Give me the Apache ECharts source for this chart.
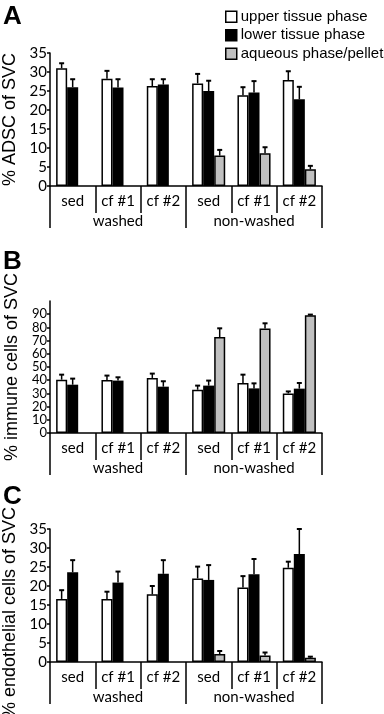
<!DOCTYPE html>
<html><head><meta charset="utf-8">
<script src="https://cdn.jsdelivr.net/npm/echarts@6/dist/echarts.min.js"></script>
<style>html,body{margin:0;padding:0;background:#fff}#c{width:384px;height:714px}</style>
</head><body><div id="c"></div>
<script>
const categories = ['sed', 'cf #1', 'cf #2', 'sed', 'cf #1', 'cf #2'];
const groups = ['washed', 'non-washed'];
const seriesNames = ['upper tissue phase', 'lower tissue phase', 'aqueous phase/pellet'];

const adscUpper = [31.0, 28.2, 26.3, 27.0, 23.9, 27.9];
const adscUpperErr = [1.3, 2.1, 1.8, 2.5, 2.1, 2.3];
const adscLower = [26.0, 25.9, 26.7, 25.0, 24.6, 22.8];
const adscLowerErr = [2.1, 2.2, 1.4, 2.7, 3.0, 3.3];
const adscAqueous = [null, null, null, 8.0, 8.6, 4.4];
const adscAqueousErr = [null, null, null, 1.5, 1.6, 0.9];

const immuneUpper = [40.4, 40.2, 41.7, 32.8, 37.9, 30.0];
const immuneUpperErr = [3.8, 3.3, 3.3, 3.1, 6.3, 1.5];
const immuneLower = [36.6, 39.7, 35.1, 35.9, 33.8, 33.6];
const immuneLowerErr = [4.6, 2.5, 4.1, 3.8, 3.8, 4.3];
const immuneAqueous = [null, null, null, 72.7, 79.1, 89.2];
const immuneAqueousErr = [null, null, null, 6.6, 4.0, 0.5];

const endoUpper = [16.6, 16.6, 17.8, 22.0, 19.6, 24.8];
const endoUpperErr = [2.3, 1.9, 2.2, 3.1, 3.0, 1.6];
const endoLower = [23.6, 20.9, 23.2, 21.6, 23.1, 28.4];
const endoLowerErr = [3.2, 2.9, 3.6, 3.9, 4.0, 6.6];
const endoAqueous = [null, null, null, 2.1, 1.7, 1.1];
const endoAqueousErr = [null, null, null, 0.8, 0.8, 0.3];

const panels = [
  {letter: 'A', name: '% ADSC of SVC', max: 35, interval: 5, labelSize: 15, namePad: 0,
   vals: [adscUpper, adscLower, adscAqueous], errs: [adscUpperErr, adscLowerErr, adscAqueousErr]},
  {letter: 'B', name: '% immune cells of SVC', max: 100, interval: 10, labelSize: 13, namePad: 0,
   vals: [immuneUpper, immuneLower, immuneAqueous], errs: [immuneUpperErr, immuneLowerErr, immuneAqueousErr]},
  {letter: 'C', name: '% endothelial cells of SVC', max: 35, interval: 5, labelSize: 15, namePad: 34,
   vals: [endoUpper, endoLower, endoAqueous], errs: [endoUpperErr, endoLowerErr, endoAqueousErr]}
];
const gridTops = [53, 301, 529];
const gridH = [133, 132, 133];
const letterTops = [4, 249, 484];

const colors = ['#ffffff', '#000000', '#c0c0c0'];
const catGap = 0.27;
const labelFont = 'Lato, "Liberation Sans", sans-serif';
const textFont = '"Liberation Sans", Arial, sans-serif';

const grid = [], xAxis = [], yAxis = [], series = [], graphic = [];
panels.forEach((p, i) => {
  grid.push({left: 50, right: 62, top: gridTops[i], height: gridH[i], containLabel: false, outerBoundsMode: 'none'});
  xAxis.push({
    type: 'category', gridIndex: i, data: categories, position: 'bottom',
    axisLine: {lineStyle: {color: '#000', width: 1.5}},
    axisTick: {show: true, interval: 0, length: 27, lineStyle: {color: '#000', width: 1.5}},
    axisLabel: {interval: 0, margin: 8, color: '#000', fontSize: 15, fontFamily: labelFont}
  });
  xAxis.push({
    type: 'category', gridIndex: i, data: groups, position: 'bottom',
    axisLine: {show: false},
    axisTick: {show: true, interval: 0, length: 42, lineStyle: {color: '#000', width: 1.5}},
    axisLabel: {interval: 0, margin: 28, color: '#000', fontSize: 15, fontFamily: labelFont}
  });
  yAxis.push({
    type: 'value', gridIndex: i, min: 0, max: p.max, interval: p.interval,
    splitLine: {show: false},
    axisLine: {show: true, lineStyle: {color: '#000', width: 1.5}},
    axisTick: {show: true, length: 3, lineStyle: {color: '#000', width: 1.5}},
    axisLabel: {margin: 3, color: '#000', fontSize: p.labelSize, fontFamily: labelFont, showMaxLabel: p.max !== 100},
    name: p.name, nameLocation: 'middle', nameRotate: 90, nameGap: 28,
    nameTextStyle: {color: '#000', fontSize: 18, fontFamily: textFont, padding: [0, p.namePad, 0, 0]}
  });
  p.vals.forEach((v, s) => {
    series.push({
      type: 'bar', name: seriesNames[s], xAxisIndex: i * 2, yAxisIndex: i,
      data: v.map(d => d === null ? '-' : d),
      barGap: 0, barCategoryGap: (catGap * 100) + '%',
      itemStyle: {color: colors[s], borderColor: '#000', borderWidth: s === 1 ? 0 : 1.5},
      emphasis: {disabled: true}, z: 2
    });
  });
  p.vals.forEach((v, s) => {
    const data = v.map((d, k) => d === null ? null : [k, d, d + p.errs[s][k]]).filter(x => x);
    series.push({
      type: 'custom', xAxisIndex: i * 2, yAxisIndex: i, z: 3, silent: true,
      data: data,
      renderItem: function (params, api) {
        const c0 = api.coord([api.value(0), api.value(1)]);
        const c1 = api.coord([api.value(0), api.value(2)]);
        const bw = api.size([1, 0])[0] * (1 - catGap) / 3;
        const x = c0[0] + (s - 1) * bw;
        return {type: 'group', children: [
          {type: 'line', shape: {x1: x, y1: c0[1], x2: x, y2: c1[1]}, style: {stroke: '#000', lineWidth: 1.5}},
          {type: 'line', shape: {x1: x - 2.5, y1: c1[1], x2: x + 2.5, y2: c1[1]}, style: {stroke: '#000', lineWidth: 2}}
        ]};
      }
    });
  });
  graphic.push({type: 'text', left: 3, top: letterTops[i],
    style: {text: p.letter, font: 'bold 26px "Liberation Sans", Arial, sans-serif', fill: '#000'}});
});

const chart = echarts.init(document.getElementById('c'), null, {renderer: 'canvas'});
chart.setOption({
  animation: false,
  backgroundColor: '#fff',
  legend: {
    orient: 'vertical', left: 220, top: 3, itemWidth: 11, itemHeight: 11, itemGap: 1,
    data: seriesNames,
    icon: 'rect',
    textStyle: {color: '#000', fontSize: 15, fontFamily: textFont, padding: [0, 0, 0, -1], lineHeight: 17.5},
    itemStyle: {borderColor: '#000', borderWidth: 1.5},
    selectedMode: false
  },
  grid, xAxis, yAxis, series, graphic
});
</script></body></html>
